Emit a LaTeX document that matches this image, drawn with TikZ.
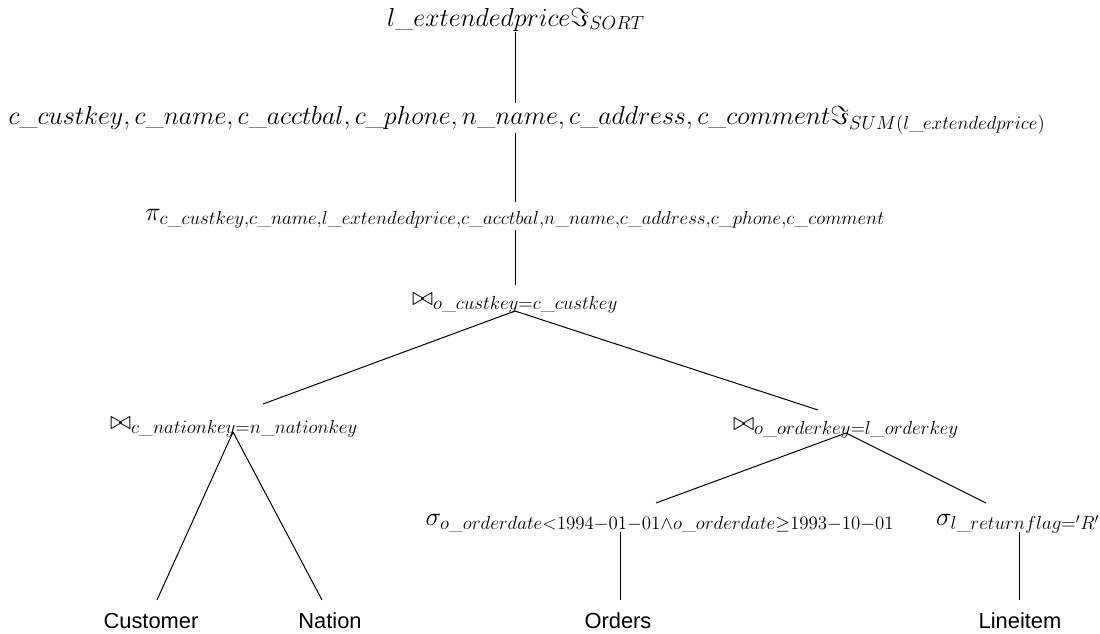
\documentclass[tikz,border=0pt]{standalone}
\usepackage{fix-cm}
\usepackage{amsmath}
\usepackage{fontspec}
\newfontfamily\leaffont{Liberation Sans}
% slightly larger subscripts for the operator labels
\DeclareMathSizes{19.5}{19.5}{14.2}{10.5}
% underscore that follows the math style size
\newcommand{\us}{\text{\_}}
\begin{document}
\begin{tikzpicture}[x=0.75pt,y=-0.75pt,
  op/.style={inner sep=0pt, anchor=base, font=\fontsize{19.5}{23}\selectfont},
  rel/.style={inner sep=0pt, anchor=base, font=\leaffont\fontsize{16.4}{19}\selectfont},
  edge/.style={line width=0.75pt}]
\useasboundingbox (0,0) rectangle (1100,633);

% operators of the plan, top to bottom
\node[op] (sort) at (516,26) {$l\us extendedprice\Im_{SORT}$};
\node[op] (grp) at (527,124) {$c\us custkey, c\us name, c\us acctbal, c\us phone, n\us name, c\us address, c\us comment\Im_{SUM(l\us extendedprice)}$};
\node[op] (proj) at (515,220) {$\pi_{c\us custkey,c\us name,l\us extendedprice,c\us acctbal,n\us name,c\us address,c\us phone,c\us comment}$};
\node[op] (jcust) at (515,305) {$\bowtie_{o\us custkey=c\us custkey}$};
\node[op] (jnat) at (234,429) {$\bowtie_{c\us nationkey=n\us nationkey}$};
\node[op] (jord) at (846,430) {$\bowtie_{o\us orderkey=l\us orderkey}$};
\node[op] (sord) at (660,525) {$\sigma_{o\us orderdate<1994-01-01\wedge o\us orderdate\geq 1993-10-01}$};
\node[op] (sli) at (1018,525) {$\sigma_{l\us returnflag='R'}$};

% base relations
\node[rel] (cust) at (151,628) {Customer};
\node[rel] (nat) at (330,628) {Nation};
\node[rel] (ord) at (618,628) {Orders};
\node[rel] (li) at (1020,628) {Lineitem};

% connection points of the tree edges
\coordinate (sort-o) at (515,32);
\coordinate (grp-i) at (515,103);
\coordinate (grp-o) at (515,133);
\coordinate (proj-i) at (515,202);
\coordinate (proj-o) at (515,230);
\coordinate (jcust-i) at (515,285);
\coordinate (jcust-o) at (515,311);
\coordinate (jnat-i) at (263,404);
\coordinate (jnat-o) at (233,432);
\coordinate (jord-i) at (818,410);
\coordinate (jord-o) at (846,433);
\coordinate (sord-i) at (656,503);
\coordinate (sord-o) at (620,532);
\coordinate (sli-i) at (986,503);
\coordinate (sli-o) at (1019,532);
\coordinate (cust-i) at (157,600);
\coordinate (nat-i) at (322,600);
\coordinate (ord-i) at (620,600);
\coordinate (li-i) at (1019,600);

\draw[edge] (sort-o) -- (grp-i);
\draw[edge] (grp-o) -- (proj-i);
\draw[edge] (proj-o) -- (jcust-i);
\draw[edge] (jcust-o) -- (jnat-i);
\draw[edge] (jcust-o) -- (jord-i);
\draw[edge] (jnat-o) -- (cust-i);
\draw[edge] (jnat-o) -- (nat-i);
\draw[edge] (jord-o) -- (sord-i);
\draw[edge] (jord-o) -- (sli-i);
\draw[edge] (sord-o) -- (ord-i);
\draw[edge] (sli-o) -- (li-i);
\end{tikzpicture}
\end{document}
